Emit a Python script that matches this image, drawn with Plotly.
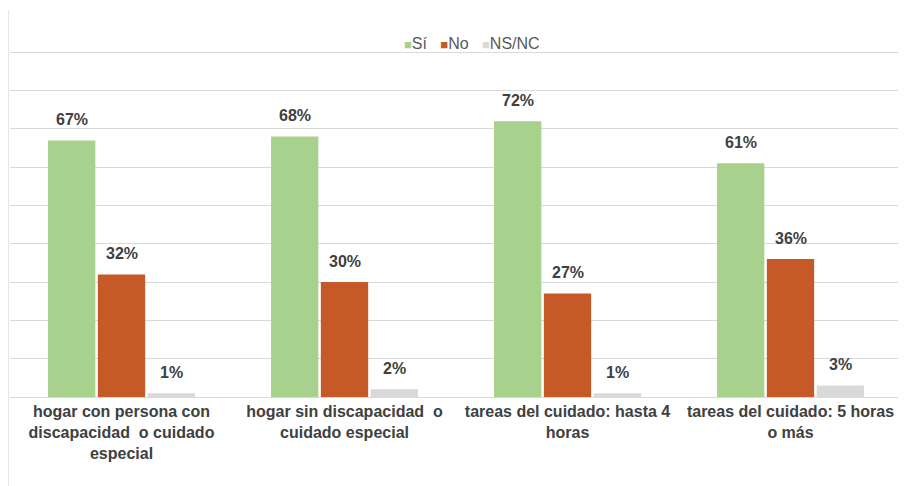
import plotly.graph_objects as go

# categories and series (percent)
categories = [
    "hogar con persona con<br>discapacidad  o cuidado<br>especial",
    "hogar sin discapacidad  o<br>cuidado especial",
    "tareas del cuidado: hasta 4<br>horas",
    "tareas del cuidado: 5 horas<br>o más",
]
series_names = ["Sí", "No", "NS/NC"]
si_vals = [67, 68, 72, 61]
no_vals = [32, 30, 27, 36]
nsnc_vals = [1, 2, 1, 3]

colours = ["#A9D18E", "#C55A28", "#D9D9D9"]
text_col = "#404040"
font_family = "Liberation Sans, Arial, sans-serif"

BARGAP = 0.33
GROUPGAP = 0.05

fig = go.Figure()
all_vals = [si_vals, no_vals, nsnc_vals]
for name, vals, col in zip(series_names, all_vals, colours):
    fig.add_trace(go.Bar(name=name, x=categories, y=vals, marker_color=col,
                         marker_line_width=0, showlegend=False))

# percentage labels above each bar
slot = (1 - BARGAP) / len(all_vals)
annotations = []
for j, vals in enumerate(all_vals):
    for i, v in enumerate(vals):
        annotations.append(dict(
            x=i + (j - 1) * slot, y=v, xref="x", yref="y",
            text=f"{v}%", showarrow=False, yanchor="middle", yshift=21,
            font=dict(family=font_family, size=16, color=text_col, weight="bold"),
        ))

# compact legend, drawn as text like the original
legend_txt = "&nbsp;&nbsp;&nbsp;".join(
    f"<span style='color:{c};font-size:13px'>■</span>{n}"
    for n, c in zip(series_names, colours)
)
annotations.append(dict(
    x=0.518, y=0.922, xref="paper", yref="paper", text=legend_txt,
    showarrow=False, xanchor="center", yanchor="middle",
    font=dict(family=font_family, size=16, color="#595959"),
))

# page body has an 8px margin, so the figure is 8px smaller
fig.update_layout(
    width=898, height=478,
    margin=dict(l=2, r=4, t=6, b=89, autoexpand=False),
    paper_bgcolor="white", plot_bgcolor="white",
    barmode="group", bargap=BARGAP, bargroupgap=GROUPGAP,
    font=dict(family=font_family, color=text_col),
    annotations=annotations,
    shapes=[dict(type="line", xref="paper", yref="paper", x0=-0.002, x1=-0.002,
                 y0=-0.235, y1=1.01, line=dict(color="#D9D9D9", width=1))],
)
fig.update_yaxes(range=[0, 100], dtick=10, showticklabels=False, automargin=False,
                 gridcolor="#D9D9D9", gridwidth=1, zeroline=False, showline=False)
fig.update_xaxes(showline=True, linecolor="#D9D9D9", linewidth=1, ticks="",
                 automargin=False, tickangle=0,
                 tickfont=dict(family=font_family, size=16, color=text_col, weight="bold"))

fig.write_html("out.html")
